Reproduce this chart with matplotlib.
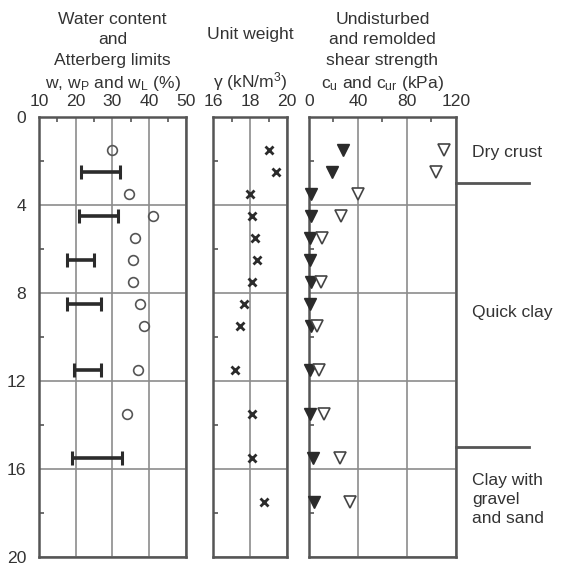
import matplotlib
matplotlib.use('Agg')
import matplotlib.pyplot as plt
import matplotlib.transforms as mtransforms

plt.rcParams['font.family'] = ['Liberation Sans', 'DejaVu Sans']
plt.rcParams['mathtext.default'] = 'regular'

# water content w (%)
w_depth = [1.5, 3.5, 4.5, 5.5, 6.5, 7.5, 8.5, 9.5, 11.5, 13.5]
w_val = [30, 34.5, 41, 36, 35.5, 35.5, 37.5, 38.5, 37, 34]

# Atterberg limits (plastic, liquid)
att_depth = [2.5, 4.5, 6.5, 8.5, 11.5, 15.5]
wp = [21.5, 21, 17.5, 17.5, 19.5, 19]
wl = [32, 31.5, 25, 27, 27, 32.5]

# unit weight (kN/m3)
g_depth = [1.5, 2.5, 3.5, 4.5, 5.5, 6.5, 7.5, 8.5, 9.5, 11.5, 13.5, 15.5, 17.5]
g_val = [19.0, 19.4, 18.0, 18.1, 18.25, 18.35, 18.1, 17.65, 17.45, 17.2, 18.1, 18.1, 18.75]

# undisturbed shear strength cu (kPa)
cu_depth = [1.5, 2.5, 3.5, 4.5, 5.5, 6.5, 7.5, 8.5, 9.5, 11.5, 13.5, 15.5, 17.5]
cu_val = [27.5, 18.5, 1.5, 1.5, 1, 1, 1.5, 1, 1.5, 1, 1, 3.5, 4]

# remolded shear strength cur (kPa)
cur_depth = [1.5, 2.5, 3.5, 4.5, 5.5, 7.5, 9.5, 11.5, 13.5, 15.5, 17.5]
cur_val = [110, 104, 40, 26, 10.5, 9.5, 6.5, 8.5, 12, 25, 33.5]

layer_bounds = [3, 15]
layer_names = ['Dry crust', 'Quick clay', 'Clay with\ngravel\nand sand']
layer_label_depth = [1.6, 8.9, 17.4]

frame_c = '#555555'
grid_c = '#8c8c8c'
mark_c = '#2b2b2b'
text_c = '#333333'
fs = 12.6

fig = plt.figure(figsize=(5.61, 5.66), dpi=100)
bottom, height = 0.016, 0.777
ax1 = fig.add_axes([0.0695, bottom, 0.262, height])
ax2 = fig.add_axes([0.3797, bottom, 0.132, height])
ax3 = fig.add_axes([0.5508, bottom, 0.262, height])


def style(ax, xlim, major, minor, show_depth):
    ax.set_xlim(*xlim)
    ax.set_ylim(20, 0)
    ax.xaxis.tick_top()
    ax.set_xticks(major)
    ax.set_xticks(minor, minor=True)
    ax.set_yticks([0, 4, 8, 12, 16, 20])
    ax.set_yticks([2, 6, 10, 14, 18], minor=True)
    ax.grid(True, which='major', color=grid_c, lw=1.2)
    ax.tick_params(axis='both', which='major', length=0, labelsize=fs,
                   labelcolor=text_c, pad=6)
    ax.tick_params(axis='both', which='minor', length=3.5, width=1.2,
                   direction='in', color=frame_c)
    ax.tick_params(axis='x', which='minor', top=True, bottom=False)
    ax.tick_params(axis='y', which='minor', left=True, right=False)
    if not show_depth:
        ax.set_yticklabels([])
    else:
        ax.tick_params(axis='y', which='major', pad=9)
    for s in ax.spines.values():
        s.set_color(frame_c)
        s.set_linewidth(1.8)


style(ax1, (10, 50), [10, 20, 30, 40, 50], [15, 25, 35, 45], True)
style(ax2, (16, 20), [16, 18, 20], [17, 19], False)
style(ax3, (0, 120), [0, 40, 80, 120], [20, 60, 100], False)

# water content and Atterberg limits
ax1.plot(w_val, w_depth, 'o', mfc='none', mec='#555555', ms=7, mew=1.2)
mid = [(a + b) / 2 for a, b in zip(wp, wl)]
half = [(b - a) / 2 for a, b in zip(wp, wl)]
ax1.errorbar(mid, att_depth, xerr=half, fmt='none', ecolor=mark_c,
             elinewidth=2.6, capsize=5, capthick=2.2)

# unit weight
ax2.plot(g_val, g_depth, 'x', color=mark_c, ms=5.5, mew=2)

# shear strength
ax3.plot(cu_val, cu_depth, 'v', color=mark_c, ms=9, clip_on=False, zorder=4)
ax3.plot(cur_val, cur_depth, 'v', mfc='white', mec='#444444', ms=9, mew=1.2,
         clip_on=False, zorder=4)

# layer boundaries and names
trans = mtransforms.blended_transform_factory(ax3.transAxes, ax3.transData)
for d in layer_bounds:
    ax3.plot([1.0, 1.5], [d, d], color=frame_c, lw=2, transform=trans,
             clip_on=False)
for name, d in zip(layer_names, layer_label_depth):
    ax3.text(1.11, d, name, transform=trans, fontsize=fs, color=text_c,
             va='center', ha='left', linespacing=1.35)

# panel titles
ls = 1.45
ax1.text(0.5, 1.055, 'Water content\nand\nAtterberg limits\nw, w$_P$ and w$_L$ (%)',
         transform=ax1.transAxes, ha='center', va='bottom', fontsize=fs,
         color=text_c, linespacing=ls)
ax2.text(0.5, 1.055, 'Unit weight\n\n$\\gamma$ (kN/m$^3$)',
         transform=ax2.transAxes, ha='center', va='bottom', fontsize=fs,
         color=text_c, linespacing=ls)
ax3.text(0.5, 1.055, 'Undisturbed\nand remolded\nshear strength\nc$_u$ and c$_{ur}$ (kPa)',
         transform=ax3.transAxes, ha='center', va='bottom', fontsize=fs,
         color=text_c, linespacing=ls)

fig.savefig('out.png', dpi=100)
